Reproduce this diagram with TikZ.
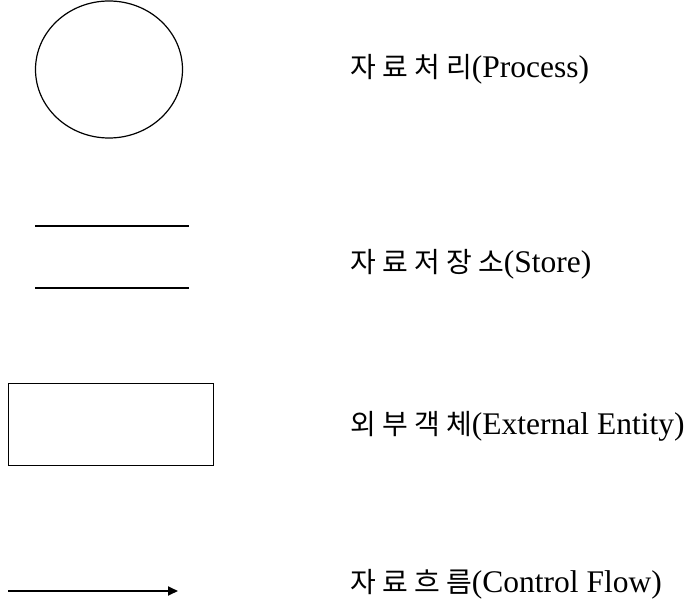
\documentclass[tikz,border=0pt]{standalone}
\usepackage{fontspec}
\setmainfont{Liberation Serif}
\newfontfamily\cjk{Noto Sans CJK KR}
\usetikzlibrary{shapes.geometric,arrows.meta}
\newcommand{\kc}[1]{\makebox[32pt][l]{\cjk\fontsize{28}{28}\selectfont #1}}
\newcommand{\kl}[1]{{\cjk\fontsize{28}{28}\selectfont #1}}
\tikzset{
  shapeline/.style={draw=black, line width=1.2pt},
  storeline/.style={draw=black, line width=1.8pt},
  flowarrow/.style={draw=black, line width=1.8pt, -{Triangle[length=10pt,width=9pt]}},
  label/.style={anchor=base west, inner sep=0pt, font=\fontsize{31.5}{31.5}\selectfont}
}
\begin{document}
\begin{tikzpicture}[x=1pt,y=-1pt]
\useasboundingbox (0,0) rectangle (691,601);
% process
\node[shapeline, ellipse, minimum width=147pt, minimum height=137pt, inner sep=0pt] (proc) at (109,69.5) {};
\node[label] (proctxt) at (350,78) {\kc{자}\kc{료}\kc{처}\kl{리}(Process)};
% store
\coordinate (s1a) at (35,226);
\coordinate (s1b) at (189,226);
\coordinate (s2a) at (35,288);
\coordinate (s2b) at (189,288);
\draw[storeline] (s1a) -- (s1b);
\draw[storeline] (s2a) -- (s2b);
\node[label] (storetxt) at (350,273) {\kc{자}\kc{료}\kc{저}\kc{장}\kl{소}(Store)};
% external entity
\node[shapeline, rectangle, minimum width=205pt, minimum height=82pt, inner sep=0pt] (ext) at (111,424.5) {};
\node[label] (exttxt) at (350,435) {\kc{외}\kc{부}\kc{객}\kl{체}(External Entity)};
% flow
\coordinate (fa) at (8,591);
\coordinate (fb) at (178,591);
\draw[flowarrow] (fa) -- (fb);
\node[label] (flowtxt) at (350,592) {\kc{자}\kc{료}\kc{흐}\kl{름}(Control Flow)};
\end{tikzpicture}
\end{document}
